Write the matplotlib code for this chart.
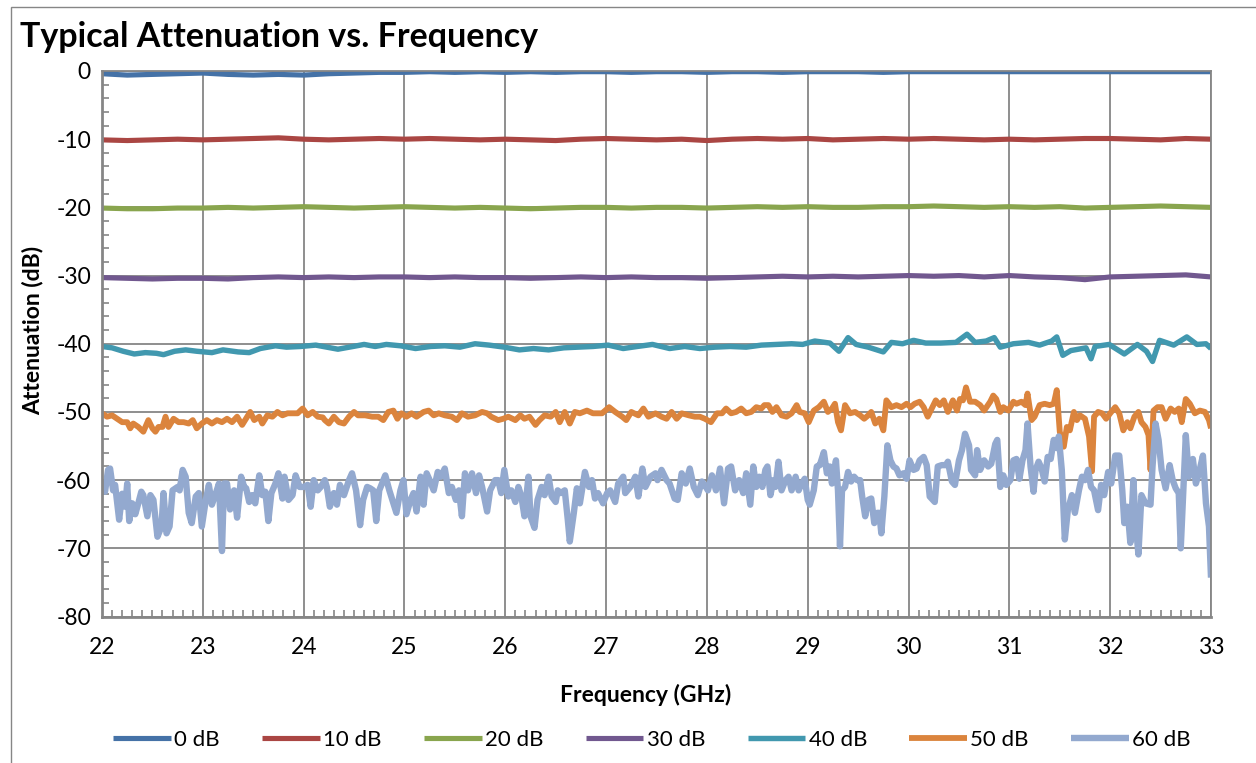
import numpy as np
import matplotlib
matplotlib.use('Agg')
import matplotlib.pyplot as plt
from matplotlib.patches import Rectangle
from matplotlib.ticker import MultipleLocator

plt.rcParams['font.family'] = ['Lato', 'DejaVu Sans']
plt.rcParams['axes.unicode_minus'] = False

# ---- data ----
# the four flat traces share one frequency grid
flat_freq = [22.00, 22.25, 22.50, 22.75, 23.00, 23.25, 23.50, 23.75, 24.00, 24.25,
             24.50, 24.75, 25.00, 25.25, 25.50, 25.75, 26.00, 26.25, 26.50, 26.75,
             27.00, 27.25, 27.50, 27.75, 28.00, 28.25, 28.50, 28.75, 29.00, 29.25,
             29.50, 29.75, 30.00, 30.25, 30.50, 30.75, 31.00, 31.25, 31.50, 31.75,
             32.00, 32.25, 32.50, 32.75, 33.00]

att_0 = [-0.4, -0.6, -0.5, -0.4, -0.3, -0.5, -0.6, -0.5, -0.6, -0.4,
         -0.3, -0.2, -0.2, -0.1, -0.2, -0.1, -0.2, -0.1, -0.2, -0.1,
         -0.1, -0.2, -0.1, -0.1, -0.2, -0.1, -0.1, -0.2, -0.1, -0.1,
         -0.1, -0.2, -0.1, -0.1, -0.1, -0.1, -0.1, -0.1, -0.1, -0.1,
         -0.1, -0.1, -0.1, -0.1, -0.1]

att_10 = [-10.1, -10.2, -10.1, -10.0, -10.1, -10.0, -9.9, -9.8, -10.0, -10.1,
          -10.0, -9.9, -10.0, -9.9, -10.0, -10.1, -10.0, -10.1, -10.2, -10.0,
          -9.9, -10.0, -10.1, -10.0, -10.2, -10.0, -9.9, -10.0, -9.9, -10.1,
          -10.0, -9.9, -10.0, -9.9, -10.0, -10.1, -10.0, -10.1, -10.0, -9.9,
          -9.9, -10.0, -10.1, -9.9, -10.0]

att_20 = [-20.1, -20.2, -20.2, -20.1, -20.1, -20.0, -20.1, -20.0, -19.9, -20.0,
          -20.1, -20.0, -19.9, -20.0, -20.1, -20.0, -20.1, -20.2, -20.1, -20.0,
          -20.0, -20.1, -20.0, -20.0, -20.1, -20.0, -19.9, -20.0, -19.9, -20.0,
          -20.0, -19.9, -19.9, -19.8, -19.9, -20.0, -19.9, -20.0, -19.9, -20.1,
          -20.0, -19.9, -19.8, -19.9, -20.0]

att_30 = [-30.3, -30.4, -30.5, -30.4, -30.4, -30.5, -30.3, -30.2, -30.3, -30.2,
          -30.3, -30.2, -30.2, -30.3, -30.2, -30.3, -30.3, -30.4, -30.3, -30.2,
          -30.3, -30.2, -30.3, -30.3, -30.4, -30.3, -30.2, -30.1, -30.2, -30.1,
          -30.2, -30.1, -30.0, -30.1, -30.0, -30.2, -30.0, -30.2, -30.3, -30.6,
          -30.2, -30.1, -30.0, -29.9, -30.2]

freq_40 = [22.00, 22.10, 22.21, 22.32, 22.43, 22.54, 22.61, 22.72, 22.83, 22.94,
           23.09, 23.20, 23.35, 23.46, 23.57, 23.72, 23.83, 23.97, 24.12, 24.23,
           24.34, 24.49, 24.60, 24.71, 24.82, 24.96, 25.11, 25.26, 25.40, 25.55,
           25.70, 25.84, 25.99, 26.14, 26.28, 26.43, 26.58, 26.72, 26.87, 27.02,
           27.17, 27.31, 27.46, 27.63, 27.78, 27.93, 28.08, 28.23, 28.39, 28.54,
           28.69, 28.84, 28.95, 29.07, 29.22, 29.31, 29.40, 29.48, 29.60, 29.75,
           29.83, 29.94, 30.05, 30.17, 30.32, 30.47, 30.58, 30.66, 30.77, 30.85,
           30.91, 31.04, 31.19, 31.30, 31.42, 31.47, 31.53, 31.61, 31.76, 31.81,
           31.85, 31.99, 32.14, 32.27, 32.36, 32.42, 32.49, 32.63, 32.76, 32.86,
           32.95, 33.00]
att_40 = [-40.4, -40.6, -41.1, -41.5, -41.3, -41.4, -41.6, -41.1, -40.9, -41.1,
          -41.3, -40.9, -41.2, -41.3, -40.7, -40.3, -40.5, -40.4, -40.2, -40.5,
          -40.8, -40.4, -40.1, -40.4, -40.1, -40.3, -40.7, -40.4, -40.3, -40.5,
          -40.0, -40.2, -40.5, -40.9, -40.7, -40.9, -40.6, -40.5, -40.4, -40.2,
          -40.7, -40.4, -40.1, -40.7, -40.4, -40.7, -40.5, -40.4, -40.5, -40.2,
          -40.1, -40.0, -40.1, -39.6, -39.9, -41.1, -39.1, -40.1, -40.5, -41.2,
          -39.8, -40.0, -39.5, -39.9, -39.9, -39.8, -38.6, -39.8, -39.6, -39.1,
          -40.5, -40.0, -39.8, -40.2, -39.6, -39.0, -41.7, -41.0, -40.6, -42.2,
          -40.4, -40.1, -41.5, -40.1, -41.1, -42.6, -39.5, -40.2, -39.0, -40.1,
          -40.0, -40.7]

freq_50 = [22.00, 22.05, 22.10, 22.15, 22.20, 22.25, 22.28, 22.31, 22.36, 22.41,
           22.46, 22.50, 22.53, 22.56, 22.60, 22.63, 22.66, 22.71, 22.76, 22.81,
           22.86, 22.90, 22.94, 22.99, 23.04, 23.09, 23.14, 23.19, 23.24, 23.29,
           23.34, 23.39, 23.44, 23.47, 23.51, 23.56, 23.59, 23.64, 23.69, 23.74,
           23.79, 23.84, 23.89, 23.94, 23.99, 24.04, 24.09, 24.14, 24.19, 24.21,
           24.25, 24.30, 24.35, 24.40, 24.45, 24.50, 24.54, 24.61, 24.68, 24.74,
           24.79, 24.84, 24.89, 24.93, 24.97, 25.02, 25.07, 25.12, 25.19, 25.24,
           25.29, 25.34, 25.40, 25.47, 25.52, 25.57, 25.63, 25.70, 25.77, 25.82,
           25.86, 25.93, 25.98, 26.03, 26.10, 26.15, 26.19, 26.24, 26.30, 26.34,
           26.39, 26.45, 26.50, 26.54, 26.59, 26.64, 26.69, 26.74, 26.81, 26.87,
           26.96, 27.03, 27.09, 27.16, 27.20, 27.25, 27.32, 27.37, 27.42, 27.49,
           27.55, 27.60, 27.65, 27.70, 27.75, 27.82, 27.88, 27.93, 27.98, 28.04,
           28.10, 28.15, 28.19, 28.24, 28.29, 28.34, 28.39, 28.44, 28.49, 28.54,
           28.57, 28.61, 28.65, 28.69, 28.74, 28.79, 28.84, 28.89, 28.92, 28.97,
           29.01, 29.06, 29.11, 29.16, 29.20, 29.24, 29.27, 29.30, 29.33, 29.37,
           29.42, 29.47, 29.52, 29.56, 29.60, 29.63, 29.67, 29.71, 29.75, 29.78,
           29.83, 29.88, 29.93, 29.98, 30.02, 30.06, 30.11, 30.15, 30.19, 30.23,
           30.27, 30.31, 30.35, 30.39, 30.44, 30.48, 30.51, 30.54, 30.57, 30.61,
           30.66, 30.71, 30.75, 30.81, 30.84, 30.87, 30.91, 30.94, 30.99, 31.04,
           31.07, 31.12, 31.16, 31.18, 31.22, 31.25, 31.30, 31.35, 31.40, 31.44,
           31.47, 31.50, 31.54, 31.57, 31.60, 31.64, 31.67, 31.70, 31.75, 31.79,
           31.82, 31.84, 31.88, 31.92, 31.96, 32.00, 32.05, 32.09, 32.13, 32.17,
           32.20, 32.24, 32.28, 32.31, 32.35, 32.38, 32.40, 32.43, 32.47, 32.51,
           32.55, 32.60, 32.64, 32.68, 32.71, 32.75, 32.79, 32.84, 32.89, 32.94,
           32.98, 33.00]
att_50 = [-50.2, -50.7, -50.5, -51.0, -51.5, -51.5, -52.4, -51.7, -52.2, -52.9,
          -51.2, -52.4, -52.9, -52.2, -52.2, -50.7, -52.2, -51.0, -51.5, -51.5,
          -51.7, -51.2, -52.4, -51.7, -51.2, -51.7, -51.2, -51.5, -51.0, -51.5,
          -50.7, -51.9, -50.7, -50.0, -51.2, -50.7, -51.7, -50.5, -50.7, -50.0,
          -50.5, -50.2, -50.2, -50.2, -49.5, -50.5, -50.0, -50.7, -50.8, -51.2,
          -51.7, -50.7, -51.5, -51.7, -50.7, -50.0, -50.5, -50.5, -50.7, -50.7,
          -51.2, -50.0, -49.8, -51.0, -50.2, -50.7, -50.2, -50.7, -50.0, -49.8,
          -50.5, -50.2, -50.5, -50.7, -51.2, -50.2, -50.7, -50.5, -50.0, -50.2,
          -50.7, -51.2, -51.0, -50.7, -51.2, -50.5, -51.0, -50.7, -51.9, -51.2,
          -50.5, -50.7, -50.0, -51.5, -50.0, -51.7, -50.0, -50.2, -49.8, -50.2,
          -50.2, -49.3, -50.0, -50.7, -51.2, -50.0, -50.5, -49.5, -50.7, -50.2,
          -50.7, -51.0, -50.0, -51.0, -50.2, -50.5, -50.7, -50.7, -51.0, -51.5,
          -50.2, -50.2, -49.5, -50.2, -50.0, -49.5, -50.2, -50.0, -49.3, -49.5,
          -49.0, -49.0, -50.0, -49.3, -50.5, -50.7, -50.2, -49.0, -50.0, -50.2,
          -51.5, -49.8, -49.3, -48.5, -50.0, -49.5, -48.8, -51.5, -52.7, -49.0,
          -50.2, -50.0, -50.5, -51.0, -50.5, -50.0, -51.7, -51.0, -52.7, -48.3,
          -49.3, -49.0, -49.3, -48.8, -49.3, -48.8, -48.5, -49.3, -50.7, -49.5,
          -48.3, -49.0, -48.3, -50.0, -48.3, -49.8, -48.1, -48.3, -46.4, -48.5,
          -48.5, -49.0, -49.8, -48.5, -47.6, -48.1, -50.0, -49.3, -49.8, -48.5,
          -48.8, -48.5, -49.0, -47.3, -51.2, -50.7, -49.0, -48.8, -49.0, -48.8,
          -46.8, -52.9, -55.1, -52.2, -52.7, -50.0, -51.2, -50.5, -51.0, -53.6,
          -58.7, -50.7, -50.0, -50.2, -51.0, -50.2, -49.3, -50.2, -52.7, -51.5,
          -52.4, -50.7, -50.0, -51.5, -52.2, -53.4, -58.5, -49.8, -49.3, -49.3,
          -51.0, -49.5, -50.0, -49.5, -51.5, -48.1, -48.8, -50.2, -49.8, -50.0,
          -51.2, -52.4]

freq_60 = [22.00, 22.03, 22.06, 22.08, 22.11, 22.13, 22.17, 22.20, 22.23, 22.25,
           22.27, 22.30, 22.33, 22.36, 22.39, 22.41, 22.45, 22.48, 22.51, 22.55,
           22.59, 22.61, 22.64, 22.67, 22.70, 22.75, 22.77, 22.80, 22.83, 22.86,
           22.89, 22.93, 22.96, 22.99, 23.03, 23.06, 23.09, 23.13, 23.16, 23.19,
           23.21, 23.24, 23.27, 23.31, 23.34, 23.38, 23.41, 23.43, 23.46, 23.49,
           23.52, 23.56, 23.59, 23.62, 23.65, 23.68, 23.72, 23.75, 23.79, 23.81,
           23.85, 23.89, 23.92, 23.96, 24.00, 24.04, 24.07, 24.10, 24.14, 24.17,
           24.21, 24.23, 24.26, 24.30, 24.33, 24.36, 24.40, 24.45, 24.48, 24.52,
           24.56, 24.59, 24.63, 24.66, 24.69, 24.72, 24.75, 24.81, 24.85, 24.88,
           24.92, 24.96, 24.99, 25.02, 25.06, 25.09, 25.12, 25.16, 25.19, 25.22,
           25.25, 25.29, 25.33, 25.36, 25.40, 25.44, 25.47, 25.51, 25.54, 25.57,
           25.60, 25.63, 25.67, 25.71, 25.74, 25.77, 25.82, 25.85, 25.90, 25.93,
           25.96, 25.99, 26.03, 26.06, 26.10, 26.13, 26.16, 26.19, 26.23, 26.25,
           26.29, 26.32, 26.36, 26.39, 26.43, 26.46, 26.50, 26.52, 26.55, 26.59,
           26.62, 26.64, 26.68, 26.71, 26.74, 26.79, 26.83, 26.86, 26.89, 26.92,
           26.97, 27.01, 27.04, 27.09, 27.12, 27.17, 27.19, 27.24, 27.29, 27.32,
           27.36, 27.39, 27.44, 27.49, 27.51, 27.55, 27.60, 27.63, 27.68, 27.71,
           27.75, 27.79, 27.83, 27.87, 27.91, 27.95, 27.99, 28.01, 28.05, 28.09,
           28.13, 28.17, 28.21, 28.24, 28.28, 28.32, 28.36, 28.39, 28.43, 28.46,
           28.49, 28.52, 28.55, 28.58, 28.60, 28.63, 28.66, 28.68, 28.71, 28.74,
           28.78, 28.81, 28.84, 28.88, 28.91, 28.94, 28.97, 29.00, 29.02, 29.06,
           29.09, 29.12, 29.16, 29.19, 29.22, 29.24, 29.28, 29.30, 29.32, 29.34,
           29.37, 29.40, 29.43, 29.46, 29.49, 29.52, 29.54, 29.57, 29.60, 29.63,
           29.66, 29.69, 29.71, 29.73, 29.76, 29.79, 29.82, 29.85, 29.88, 29.91,
           29.95, 29.98, 30.01, 30.05, 30.08, 30.11, 30.15, 30.18, 30.21, 30.26,
           30.29, 30.33, 30.37, 30.39, 30.43, 30.46, 30.50, 30.53, 30.56, 30.60,
           30.62, 30.66, 30.68, 30.71, 30.75, 30.79, 30.82, 30.86, 30.88, 30.91,
           30.94, 30.97, 31.01, 31.04, 31.07, 31.10, 31.13, 31.16, 31.18, 31.21,
           31.24, 31.26, 31.29, 31.32, 31.35, 31.38, 31.41, 31.44, 31.47, 31.49,
           31.52, 31.55, 31.58, 31.62, 31.65, 31.69, 31.72, 31.75, 31.78, 31.81,
           31.84, 31.88, 31.91, 31.94, 31.98, 32.01, 32.05, 32.09, 32.12, 32.14,
           32.17, 32.20, 32.23, 32.25, 32.28, 32.31, 32.35, 32.40, 32.42, 32.45,
           32.48, 32.51, 32.55, 32.59, 32.62, 32.65, 32.68, 32.70, 32.73, 32.75,
           32.78, 32.82, 32.85, 32.88, 32.92, 32.95, 32.98, 33.00]
att_60 = [-60.0, -61.7, -58.5, -58.3, -61.5, -60.7, -65.8, -62.0, -63.9, -60.5,
          -66.0, -63.4, -65.0, -63.4, -61.7, -62.2, -65.3, -62.2, -62.9, -68.3,
          -66.8, -61.9, -67.8, -66.8, -61.5, -61.0, -61.5, -58.5, -59.5, -64.8,
          -66.3, -62.4, -61.9, -66.8, -62.9, -60.7, -63.6, -61.9, -60.5, -70.4,
          -60.5, -60.5, -64.3, -61.5, -65.5, -59.5, -61.0, -61.2, -63.2, -62.2,
          -63.4, -59.3, -62.2, -61.7, -66.0, -61.9, -60.5, -59.0, -62.7, -59.5,
          -62.9, -62.2, -59.3, -61.0, -61.0, -60.7, -63.9, -60.0, -61.5, -61.0,
          -60.0, -61.0, -63.9, -61.9, -63.6, -60.7, -62.2, -60.0, -59.0, -61.5,
          -66.6, -62.9, -61.0, -61.2, -61.5, -66.0, -61.5, -59.3, -61.5, -62.9,
          -64.8, -61.5, -60.0, -65.0, -62.9, -61.9, -64.6, -59.5, -63.6, -59.0,
          -60.0, -61.5, -58.8, -59.5, -58.3, -61.9, -61.0, -62.9, -61.5, -65.3,
          -59.0, -61.5, -59.0, -61.9, -59.3, -61.0, -64.6, -61.5, -60.0, -60.0,
          -61.9, -58.5, -62.4, -61.5, -63.2, -61.0, -62.4, -65.3, -59.5, -65.3,
          -67.0, -62.9, -61.0, -62.2, -59.5, -62.4, -63.2, -61.5, -61.9, -61.5,
          -65.8, -69.0, -64.8, -61.2, -63.4, -58.8, -61.0, -60.0, -62.7, -61.9,
          -63.4, -61.9, -61.5, -63.2, -60.5, -59.5, -61.9, -61.0, -59.5, -62.4,
          -58.3, -61.0, -59.5, -59.0, -60.0, -58.5, -60.0, -60.5, -62.7, -62.9,
          -59.0, -60.5, -58.3, -61.0, -62.2, -60.2, -61.0, -61.5, -59.3, -61.5,
          -58.3, -63.4, -58.3, -58.0, -61.5, -60.0, -61.9, -59.0, -63.6, -58.0,
          -61.0, -59.5, -61.0, -58.5, -58.0, -62.2, -60.0, -61.0, -57.3, -61.5,
          -60.0, -59.5, -61.5, -59.5, -61.5, -60.5, -59.8, -62.9, -63.6, -61.5,
          -58.0, -57.8, -55.9, -59.0, -58.0, -60.5, -57.1, -61.5, -69.7, -61.5,
          -61.0, -58.8, -60.2, -59.5, -60.0, -60.0, -62.4, -65.3, -62.9, -62.7,
          -66.3, -64.8, -64.8, -67.8, -62.4, -54.9, -57.1, -58.0, -58.3, -59.3,
          -59.0, -59.8, -57.1, -58.5, -58.3, -57.1, -56.6, -57.8, -62.4, -63.2,
          -58.0, -57.8, -57.8, -57.3, -60.2, -60.7, -57.1, -55.6, -53.2, -54.9,
          -58.5, -59.3, -55.6, -58.5, -57.1, -58.0, -57.6, -54.7, -54.1, -61.0,
          -59.3, -60.7, -60.0, -57.1, -56.9, -59.8, -57.1, -55.6, -51.7, -58.0,
          -61.7, -58.5, -57.3, -58.3, -60.2, -56.6, -56.9, -54.1, -55.3, -53.6,
          -58.5, -68.7, -64.4, -62.2, -64.8, -61.5, -59.5, -60.0, -58.5, -61.0,
          -61.5, -64.4, -60.7, -62.2, -58.8, -60.5, -56.4, -56.4, -61.5, -66.3,
          -63.9, -69.2, -60.0, -65.8, -70.9, -62.2, -63.4, -63.6, -58.0, -51.7,
          -54.1, -58.5, -61.2, -57.8, -60.0, -61.2, -61.9, -70.0, -60.0, -53.4,
          -59.5, -56.9, -60.5, -59.0, -56.4, -63.4, -66.8, -74.3]

labels = ['0 dB', '10 dB', '20 dB', '30 dB', '40 dB', '50 dB', '60 dB']
colors = ['#4572A7', '#AA4643', '#89A54E', '#71588F', '#4198AF', '#DB843D', '#93A9CF']

series = [(flat_freq, att_0), (flat_freq, att_10), (flat_freq, att_20),
          (flat_freq, att_30), (freq_40, att_40), (freq_50, att_50), (freq_60, att_60)]
widths = [3.7, 3.7, 3.7, 3.7, 3.9, 4.2, 4.6]

# ---- figure ----
fig = plt.figure(figsize=(12.56, 7.63), dpi=100)
ax = fig.add_axes([102 / 1256, 1 - 616.5 / 763, (1211 - 102) / 1256, (616.5 - 71) / 763])

grid_col = '#868686'
for (f, v), c, lab, lw in zip(series, colors, labels, widths):
    ax.plot(f, v, color=c, lw=lw, label=lab, solid_joinstyle='round', solid_capstyle='butt')

ax.set_xlim(22, 33)
ax.set_ylim(-80, 0)
ax.xaxis.set_major_locator(MultipleLocator(1))
ax.xaxis.set_minor_locator(MultipleLocator(0.1))
ax.yaxis.set_major_locator(MultipleLocator(10))
ax.yaxis.set_minor_locator(MultipleLocator(2))
ax.grid(which='major', color=grid_col, lw=1.3)
ax.set_axisbelow(True)

for s in ax.spines.values():
    s.set_color(grid_col)
    s.set_linewidth(1.3)
ax.spines['left'].set_linewidth(2)
ax.spines['bottom'].set_linewidth(2)

ax.tick_params(which='major', length=0, labelsize=16.5, colors='black')
ax.tick_params(axis='x', which='major', pad=15)
ax.tick_params(axis='y', which='major', pad=8)
ax.tick_params(which='minor', direction='in', length=5, width=1.2, color=grid_col)
ax.tick_params(which='minor', top=False, right=False)

fig.text(20 / 1256, 1 - 37 / 763, 'Typical Attenuation vs. Frequency',
         fontsize=24.5, fontweight='bold', ha='left', va='center')
fig.text(33 / 1256, 1 - 330 / 763, 'Attenuation (dB)', rotation=90,
         fontsize=16.5, fontweight='bold', ha='center', va='center')
fig.text(646 / 1256, 1 - 695 / 763, 'Frequency (GHz)',
         fontsize=16.5, fontweight='bold', ha='center', va='center')

fig.legend(loc='center', bbox_to_anchor=(652 / 1256, 1 - 740 / 763), ncol=7,
           frameon=False, fontsize=16, handlelength=2.6, handletextpad=0.15,
           columnspacing=1.9)

# chart area border (cut off at right and bottom in the reference)
fig.patches.append(Rectangle((11 / 1256, -0.05), 1.2, 1.05 - 7 / 763,
                             transform=fig.transFigure, fill=False,
                             edgecolor=grid_col, lw=1.0))

fig.savefig('out.png', dpi=100)
